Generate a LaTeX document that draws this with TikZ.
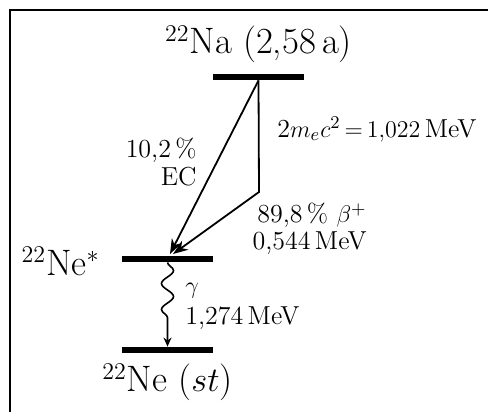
\documentclass[tikz,border=0pt]{standalone}
\usepackage{amsmath}
\usetikzlibrary{arrows.meta, positioning, decorations.pathmorphing}
\tikzset{
	level/.style={rectangle, fill=black, minimum width=45.5pt, minimum height=3pt, inner sep=0pt},
	nuclide/.style={font=\fontsize{18.4}{21}\selectfont, inner sep=0pt},
	info/.style={font=\fontsize{13}{13.9}\selectfont, inner sep=0pt},
	decay/.style={draw, line width=0.9pt, -{Stealth[length=7.5pt, width=5.5pt]}},
	photon/.style={draw, line width=0.8pt, -{Stealth[length=4.5pt, width=4pt]},
		decorate, decoration={snake, amplitude=3pt, segment length=13pt, post length=8pt}}
}

\begin{document}
\begin{tikzpicture}[x=0.5pt, y=-0.5pt]
	\useasboundingbox (0,0) rectangle (488,412);
	
	% Frame (only top and left edges visible)
	\draw[line width=0.85pt] (10,412) -- (10,10) -- (488,10);
	
	% Energy levels
	\node[level] (na) at (258.5,77) {};
	\node[level] (nex) at (167.5,259) {};
	\node[level] (nest) at (167.5,350) {};
	
	% Level labels
	\node[nuclide, above=5pt of na] (nalabel) {$^{22}$Na (2,58\,a)};
	\node[nuclide, anchor=base east] (nexlabel) at (100,275) {$^{22}$Ne$^*$};
	\node[nuclide, below=5pt of nest] (nestlabel) {$^{22}$Ne ($st$)};
	
	% End points of the decay arrows
	\coordinate (knee) at (259,192);
	\coordinate (ecend) at (170,254);
	\coordinate (betaend) at (173,254);
	
	% EC branch
	\draw[decay] (na.south) -- (ecend);
	% beta+ branch
	\draw[decay] (na.south) -- (knee) -- (betaend);
	% gamma transition
	\draw[photon] (nex.south) -- (nest.north);
	
	% Branch labels
	\node[info, align=right, anchor=east] (eclabel) at (197,162) {10,2\,\%\\EC};
	\node[info, anchor=base west] (pairlabel) at (277,137) {2$m_e c^2 \mkern-2mu=\mkern-2mu 1{,}022$\,MeV};
	\node[info, align=right, anchor=east] (betalabel) at (367,229) {89,8\,\% $\beta^+$\\[-0.5pt]0,544\,MeV};
	\node[info, align=left, anchor=west] (gammalabel) at (185,306) {$\gamma$\\[1.5pt]1,274\,MeV};
\end{tikzpicture}
\end{document}
